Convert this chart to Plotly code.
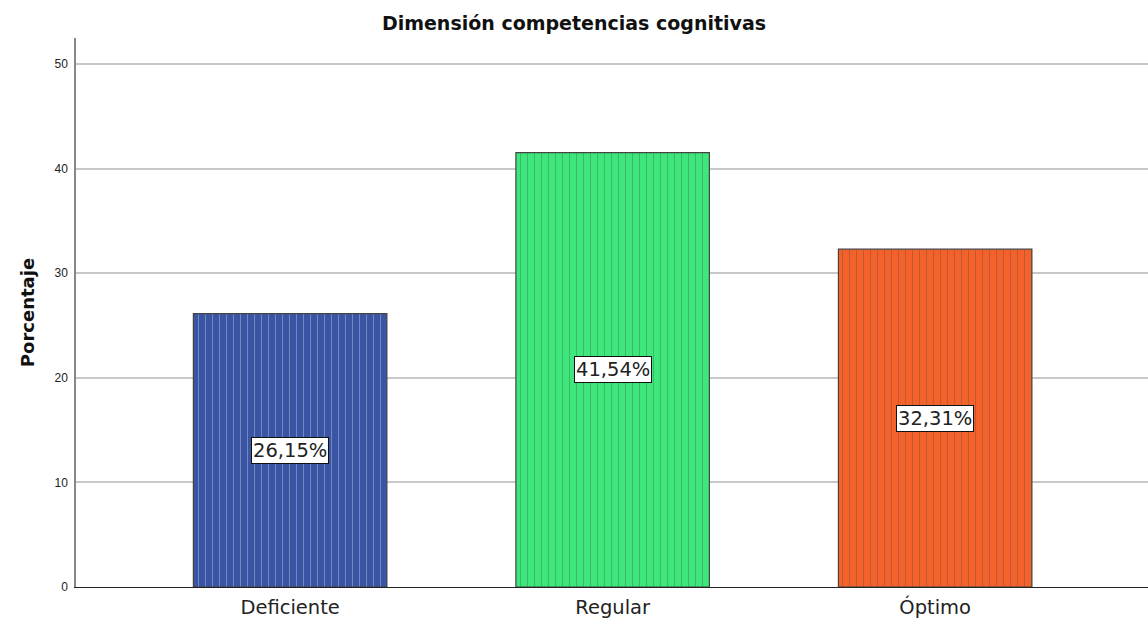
import plotly.graph_objects as go

categories = ["Deficiente", "Regular", "Óptimo"]
values = [26.15, 41.54, 32.31]
labels = ["26,15%", "41,54%", "32,31%"]
colors = ["#3a55a4", "#3de77b", "#f2622a"]
y_ticks = [0, 10, 20, 30, 40, 50]

FONT = "DejaVu Sans, Arial"

fig = go.Figure()
fig.add_trace(go.Bar(
    x=categories, y=values, width=0.6,
    marker=dict(
        color=colors,
        line=dict(color="#444444", width=1.2),
        pattern=dict(shape="|", fgcolor="#222222", fgopacity=0.35, size=7, solidity=0.12, fillmode="overlay"),
    ),
    hoverinfo="skip",
))

for c, v, t in zip(categories, values, labels):
    fig.add_annotation(
        x=c, y=v / 2, text=t, showarrow=False,
        font=dict(family=FONT, size=19.5, color="#222222"),
        bgcolor="white", bordercolor="#111111", borderwidth=1, borderpad=1,
    )

fig.update_layout(
    width=1148, height=623,
    margin=dict(l=76, r=0, t=38, b=36),
    paper_bgcolor="white", plot_bgcolor="white",
    showlegend=False,
    title=dict(text="<b>Dimensión competencias cognitivas</b>", x=0.5, xanchor="center",
               y=0.962, yanchor="middle",
               font=dict(family=FONT, size=19, color="#111111")),
    font=dict(family=FONT),
)
fig.update_xaxes(
    range=[-0.664, 2.66], showgrid=False,
    showline=True, linecolor="#222222", linewidth=1,
    tickfont=dict(size=19.5, color="#222222"), ticks="", ticklabelstandoff=3,
)
fig.update_yaxes(
    range=[0, 52.5], tickvals=y_ticks, showgrid=True, gridcolor="#c8c8c8", gridwidth=1.5,
    showline=True, linecolor="#888888", linewidth=1.5, zeroline=False,
    tickfont=dict(family="Arial, Liberation Sans", size=12, color="#222222"), ticks="outside", ticklen=4, tickcolor="white",
    title=dict(text="<b>Porcentaje</b>", font=dict(size=18, color="#111111"), standoff=15),
)

fig.write_html("out.html")
